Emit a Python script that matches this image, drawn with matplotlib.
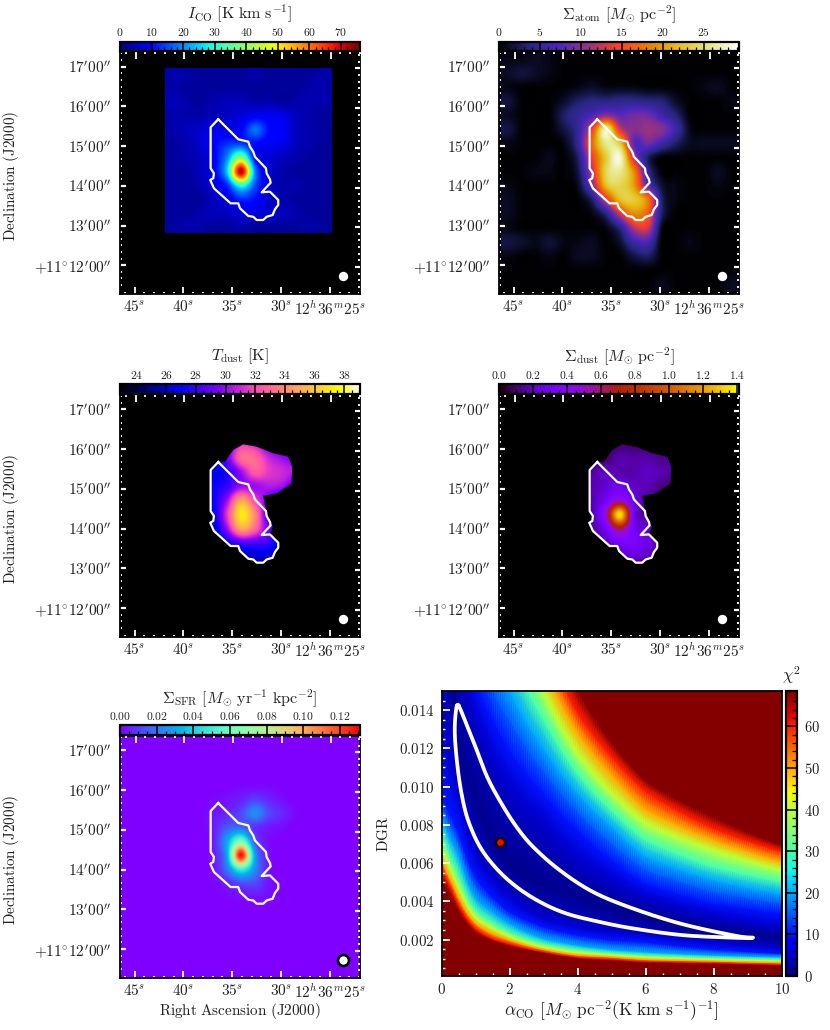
import numpy as np
import matplotlib
matplotlib.use("Agg")
import matplotlib.pyplot as plt
from matplotlib.cm import ScalarMappable
from matplotlib.colors import Normalize
from matplotlib.patches import Polygon, Rectangle

plt.rcParams["mathtext.fontset"] = "cm"
plt.rcParams["font.family"] = ["cmr10", "DejaVu Sans"]
plt.rcParams["axes.unicode_minus"] = False
plt.rcParams["axes.formatter.use_mathtext"] = True

# ---------------- data ----------------
ra_ticks = [45, 40, 35, 30, 25]
ra_labels = ["45^{s}", "40^{s}", "35^{s}", "30^{s}", "12^{h}36^{m}25^{s}"]
dec_ticks = [17, 16, 15, 14, 13, 12]
dec_labels = ["17^{\\prime}00^{\\prime\\prime}", "16^{\\prime}00^{\\prime\\prime}",
              "15^{\\prime}00^{\\prime\\prime}", "14^{\\prime}00^{\\prime\\prime}",
              "13^{\\prime}00^{\\prime\\prime}", "+11^{\\circ}12^{\\prime}00^{\\prime\\prime}"]

# region contour (RA seconds, Dec arcmin)
region_ra = [36.43, 37.21, 37.21, 36.87, 36.94, 37.25, 36.87, 35.16, 34.38, 34.20, 33.35, 32.84, 32.49,
             31.82, 31.47, 30.85, 30.62, 30.28, 30.28, 31.13, 31.98, 31.06, 31.13, 31.47, 31.54, 32.67,
             32.84, 33.18, 33.35, 34.38, 36.43]
region_dec = [15.675, 15.474, 14.441, 14.315, 14.190, 14.146, 13.937, 13.559, 13.559, 13.434, 13.240, 13.220,
              13.139, 13.139, 13.220, 13.265, 13.408, 13.517, 13.643, 13.852, 13.836, 14.078, 14.164, 14.315,
              14.441, 14.733, 14.859, 14.985, 15.111, 15.172, 15.675]
# outline of the valid area of the dust maps beyond the region contour
dustedge_ra = [30.85, 31.47, 31.82, 30.44, 28.91, 28.85, 29.26, 30.79, 32.49, 33.87, 34.89, 35.74]
dustedge_dec = [14.046, 14.383, 14.827, 14.887, 15.139, 15.557, 15.809, 15.894, 16.061, 16.121, 15.978, 15.683]

# CO footprint
co_ra = [41.9, 24.8]
co_dec = [16.98, 12.80]
beam_ra = 23.68
beam_dec = 11.73

# maps sampled on a coarse grid (17 columns E->W, 17 rows N->S)
co_map = [
 [2,2,2,2,2,2,2,2,2,2,2,2,2,2,2,2,2],
 [2,2,2,3,3,2,2,2,2,3,2,2,2,2,3,2,2],
 [2,2,2,3,2,2,2,2,2,2,2,2,2,3,3,2,2],
 [3,3,3,4,3,2,3,4,4,3,3,2,3,3,3,3,3],
 [2,2,2,3,3,3,4,5,6,8,8,7,4,3,2,2,2],
 [2,2,2,3,4,5,7,7,9,18,10,8,4,3,2,2,2],
 [2,2,2,2,3,5,9,13,14,10,8,7,4,3,2,2,2],
 [2,2,2,2,3,4,8,20,40,10,6,4,3,2,2,2,2],
 [2,2,2,2,2,4,8,25,72,20,6,3,2,2,2,2,2],
 [2,2,2,2,2,3,6,12,30,15,6,3,3,2,2,2,2],
 [2,2,2,2,2,2,4,7,12,10,5,3,2,2,2,2,2],
 [2,2,2,2,2,3,4,4,6,6,5,4,3,2,2,2,2],
 [2,2,2,2,3,3,2,2,3,2,2,2,2,3,2,2,2],
 [2,2,2,2,2,2,2,2,2,2,2,2,2,2,2,2,2],
 [2,2,2,2,2,2,2,2,2,2,2,2,2,2,2,2,2],
 [2,2,2,2,2,2,2,2,2,2,2,2,2,2,2,2,2],
 [2,2,2,2,2,2,2,2,2,2,2,2,2,2,2,2,2],
]
atom_map = [
 [.6,.6,1,.6,.2,.2,.2,.2,.2,.2,.2,.2,.2,.2,.2,.2,.2],
 [1.2,1.8,1.2,.6,.2,.2,.2,.2,.2,.2,.2,.2,.2,.2,.2,.2,.2],
 [.6,.2,.2,.2,.2,.6,1.2,.6,.6,.6,.2,.2,.2,.2,.6,1,.2],
 [1.8,.2,.2,.2,1.2,3,4,4,4.5,4.5,4,3.5,1.2,.2,.2,.2,.6],
 [1,.2,.2,.2,3,5,7,10,8,9,9,6,3.5,.2,.2,.2,.2],
 [2,.2,.2,.2,2,5,14,27,13,10,11,10,6,.8,.2,.2,.2],
 [.6,.2,.2,.2,.6,5,17,26,23,8,9,6,3,1,1,1,1],
 [.2,.2,.2,.8,.2,3,14,23,28,12,3,.2,.2,.2,.2,.2,.2],
 [.2,.2,.6,.6,.2,2,12,24,26,19,5,.2,.2,.2,.2,1,.2],
 [.6,.2,.2,.2,.2,1,9,22,24,20,8,1.5,.6,.2,.2,.6,.2],
 [1,.2,.2,.2,.2,.2,3,13,22,23,18,3,.6,.2,.2,.2,.2],
 [1,.2,.2,.2,.2,.2,.6,4,13,19,16,3,.2,.2,.2,.2,.2],
 [.6,.2,.2,.2,.2,.2,.2,.6,4,12,13,.8,.2,.2,.2,.2,.2],
 [2,1.4,.8,1.6,.6,.6,1,.2,1.5,6,7,.2,.2,.6,.2,.2,.2],
 [.6,.2,.2,.6,.2,1,1,.2,.2,2,3,.2,.2,.2,.2,.2,.2],
 [.2,.2,.2,.2,.2,.2,.2,.2,.2,.2,.2,.2,.2,.2,.2,.2,.2],
 [.2,.2,.2,.2,.2,.2,.2,.2,.2,.2,.2,.8,.2,.2,.2,.2,1],
]
tdust_map = [
 [26,26,26,26,26,26,26,28,29,29,28,27,27,26,26,26,26],
 [26,26,26,26,26,26,26,28,29,29,28,27,27,26,26,26,26],
 [26,26,26,26,26,26,26,28,30,30,28,27,27,26,26,26,26],
 [26,26,26,26,26,27,28,29,31.5,31,29,28,28,26,26,26,26],
 [26,26,26,26,26,27,27,29,33,33,31,30,29,27,26,26,26],
 [26,26,26,26,26,26,26.5,27.5,30,32.5,31.5,31,30,27,26,26,26],
 [26,26,26,26,26,26,27,28,30,30,30.5,30,28,27,26,26,26],
 [26,26,26,26,26,26,27,30,35,32,29,27,26,26,26,26,26],
 [26,26,26,26,26,26,26.5,31.5,37,34,28,27,26,26,26,26,26],
 [26,26,26,26,26,26,26,30,35,33,29,28,26,26,26,26,26],
 [26,26,26,26,26,26,25,27,28.5,28.5,28,26,26,26,26,26,26],
 [25,25,25,25,25,25,25,25,25.5,26,26,25,25,25,25,25,25],
 [25,25,25,25,25,25,25,25,25,25,25,25,25,25,25,25,25],
 [25,25,25,25,25,25,25,25,25,25,25,25,25,25,25,25,25],
 [25,25,25,25,25,25,25,25,25,25,25,25,25,25,25,25,25],
 [25,25,25,25,25,25,25,25,25,25,25,25,25,25,25,25,25],
 [25,25,25,25,25,25,25,25,25,25,25,25,25,25,25,25,25],
]
sdust_map = [
 [.1,.1,.1,.1,.1,.1,.1,.1,.1,.1,.1,.1,.1,.1,.1,.1,.1],
 [.1,.1,.1,.1,.1,.1,.1,.1,.1,.1,.1,.1,.1,.1,.1,.1,.1],
 [.1,.1,.1,.1,.1,.1,.1,.1,.1,.1,.1,.1,.1,.1,.1,.1,.1],
 [.1,.1,.1,.1,.1,.1,.1,.08,.1,.1,.1,.1,.08,.1,.1,.1,.1],
 [.1,.1,.1,.1,.1,.1,.1,.1,.17,.16,.16,.13,.12,.1,.1,.1,.1],
 [.1,.1,.1,.1,.1,.1,.15,.2,.17,.17,.2,.17,.14,.1,.1,.1,.1],
 [.1,.1,.1,.1,.1,.1,.17,.22,.28,.2,.18,.12,.1,.1,.1,.1,.1],
 [.1,.1,.1,.1,.1,.1,.17,.3,.5,.25,.16,.1,.1,.1,.1,.1,.1],
 [.1,.1,.1,.1,.1,.1,.16,.5,1.36,.3,.15,.1,.1,.1,.1,.1,.1],
 [.1,.1,.1,.1,.1,.1,.15,.3,.65,.3,.2,.1,.1,.1,.1,.1,.1],
 [.1,.1,.1,.1,.1,.1,.1,.2,.3,.33,.25,.15,.1,.1,.1,.1,.1],
 [.1,.1,.1,.1,.1,.1,.1,.1,.18,.22,.18,.12,.1,.1,.1,.1,.1],
 [.1,.1,.1,.1,.1,.1,.1,.1,.1,.1,.1,.1,.1,.1,.1,.1,.1],
 [.1,.1,.1,.1,.1,.1,.1,.1,.1,.1,.1,.1,.1,.1,.1,.1,.1],
 [.1,.1,.1,.1,.1,.1,.1,.1,.1,.1,.1,.1,.1,.1,.1,.1,.1],
 [.1,.1,.1,.1,.1,.1,.1,.1,.1,.1,.1,.1,.1,.1,.1,.1,.1],
 [.1,.1,.1,.1,.1,.1,.1,.1,.1,.1,.1,.1,.1,.1,.1,.1,.1],
]
sfr_map = [
 [0,0,0,0,0,0,0,0,0,0,0,0,0,0,0,0,0],
 [0,0,0,0,0,0,0,0,0,0,0,0,0,0,0,0,0],
 [0,0,0,0,0,0,0,0,0,0,0,0,0,0,0,0,0],
 [0,0,0,0,0,0,0,0,.001,.001,.001,0,0,0,0,0,0],
 [0,0,0,0,0,0,.001,.003,.005,.01,.006,.002,0,0,0,0,0],
 [0,0,0,0,0,0,.003,.006,.012,.025,.012,.006,.001,0,0,0,0],
 [0,0,0,0,0,0,.004,.015,.018,.008,.004,.002,0,0,0,0,0],
 [0,0,0,0,0,0,.004,.03,.065,.015,.002,0,0,0,0,0,0],
 [0,0,0,0,0,0,.004,.03,.128,.03,.003,0,0,0,0,0,0],
 [0,0,0,0,0,0,.002,.02,.05,.025,.003,0,0,0,0,0,0],
 [0,0,0,0,0,0,.001,.005,.012,.012,.003,0,0,0,0,0,0],
 [0,0,0,0,0,0,0,.001,.002,.003,.002,0,0,0,0,0,0],
 [0,0,0,0,0,0,0,0,0,0,0,0,0,0,0,0,0],
 [0,0,0,0,0,0,0,0,0,0,0,0,0,0,0,0,0],
 [0,0,0,0,0,0,0,0,0,0,0,0,0,0,0,0,0],
 [0,0,0,0,0,0,0,0,0,0,0,0,0,0,0,0,0],
 [0,0,0,0,0,0,0,0,0,0,0,0,0,0,0,0,0],
]

co_ticks = [0, 10, 20, 30, 40, 50, 60, 70]
atom_ticks = [0, 5, 10, 15, 20, 25]
tdust_ticks = [24, 26, 28, 30, 32, 34, 36, 38]
sdust_ticks = [0.0, 0.2, 0.4, 0.6, 0.8, 1.0, 1.2, 1.4]
sfr_ticks = [0.00, 0.02, 0.04, 0.06, 0.08, 0.10, 0.12]
chi_ticks = [0, 10, 20, 30, 40, 50, 60]

# chi^2 surface: DGR at which each chi^2 level is reached, per alpha_CO column
alpha_col = [0.0, 0.25, 0.5, 1.0, 1.5, 2.0, 3.0, 4.0, 5.0, 6.0, 8.0, 10.0]
chi_levels = [68, 68, 60, 50, 40, 30, 20, 10, 5, 1, 5, 10, 20, 30, 40, 50, 60, 68, 68]
dgr_at_level = [
 [.00001,.00545,.0060,.0065,.0070,.0079,.0088,.0098,.0150,.025,.030,.034,.038,.042,.046,.050,.054,.058,1],
 [.00001,.0044,.00493,.00528,.0058,.0065,.00737,.00859,.0112,.017,.023,.027,.032,.037,.041,.045,.049,.053,1],
 [.00001,.00345,.00388,.00423,.00476,.00545,.0065,.00772,.00981,.0122,.0165,.019,.023,.027,.031,.035,.039,.043,1],
 [.00001,.00231,.00258,.00284,.0031,.00353,.00415,.00528,.0065,.0094,.0138,.0155,.019,.022,.025,.028,.031,.034,1],
 [.00001,.00193,.00205,.00231,.00258,.00292,.00345,.00423,.00519,.0072,.0115,.0135,.0165,.019,.021,.024,.027,.030,1],
 [.00001,.00162,.00179,.00197,.00214,.0024,.00284,.00345,.00423,.0058,.00999,.0119,.015,.017,.019,.021,.023,.025,1],
 [.00001,.0013,.00137,.00148,.00158,.00179,.00205,.00266,.0031,.00476,.00824,.00964,.012,.01356,.015,.0163,.0178,.019,1],
 [.00001,.00099,.00109,.00118,.0013,.00148,.0017,.00223,.00266,.00423,.00633,.00772,.00964,.01069,.01173,.0128,.01383,.0151,1],
 [.00001,.00088,.00099,.00109,.00118,.0013,.00148,.00197,.0024,.00353,.00519,.00615,.0079,.00877,.00964,.0106,.01156,.01234,1],
 [.00001,.00078,.00087,.00095,.00106,.00118,.00135,.00188,.0023,.0031,.00423,.00493,.00633,.0072,.00807,.00877,.00973,.0103,1],
 [.00001,.00071,.0008,.00087,.00095,.00106,.00118,.00148,.00188,.0024,.00327,.00388,.0051,.0058,.00667,.0072,.00781,.00842,1],
 [.00001,.00062,.00071,.00078,.00087,.00097,.00109,.00127,.00153,.0021,.00266,.00336,.00437,.00502,.00563,.00606,.00659,.00694,1],
]
# one-sigma contour and best fit
contour_alpha = [.489,.685,.978,1.34,1.76,2.20,2.69,3.47,4.45,5.63,7.09,8.66,9.15,8.66,7.09,5.63,4.65,3.67,2.89,2.20,1.61,1.13,.78,.587,.46,.39,.42]
contour_dgr = [.01426,.01348,.01217,.01051,.00912,.00790,.00685,.00563,.00449,.00362,.00280,.00219,.00210,.00209,.00223,.00258,.00292,.00336,.00397,.00476,.00572,.00685,.00824,.00964,.01121,.01278,.01391]
best_alpha = [1.71]
best_dgr = [0.00709]
alpha_ticks = [0, 2, 4, 6, 8, 10]
dgr_ticks = [0.002, 0.004, 0.006, 0.008, 0.010, 0.012, 0.014]

# ---------------- layout ----------------
W, H = 830, 1030
fig = plt.figure(figsize=(W / 100, H / 100), dpi=100, facecolor="white")
PX = 0.72  # points per pixel

def axpx(l, t, r, b):
    return fig.add_axes([l / W, 1 - b / H, (r - l) / W, (b - t) / H])

def txt(x, y, s, size, **kw):
    kw.setdefault("ha", "center")
    kw.setdefault("va", "center")
    fig.text(x / W, 1 - y / H, s, fontsize=size, color="#222222", **kw)

FS_T = 11.0   # tick labels on maps
FS_C = 8.3    # colour bar labels
FS_L = 10.9   # axis labels
FS_H = 11.6   # titles

RA0, RA1 = 46.5, 21.9
DEC1, DEC0 = 17.363, 11.28
# image extent: half a grid cell beyond the outermost samples
IMG_RA = (46.5 - 2 / 9.76, 46.5 - 240 / 9.76)
IMG_DEC = (17.363 - 239 / 39.7, 17.363 - 1 / 39.7)


def map_panel(l, t, grid, cmap, vmin, vmax, clip=None, face="black", beam_edge=None):
    ax = axpx(l, t, l + 240, t + 241.5)
    ax.set_facecolor(face)
    im = ax.imshow(np.array(grid, float), cmap=cmap, vmin=vmin, vmax=vmax, interpolation="catrom",
                   extent=[IMG_RA[0], IMG_RA[1], IMG_DEC[0], IMG_DEC[1]], aspect="auto", origin="upper", zorder=1)
    if clip is not None:
        clip.set_transform(ax.transData)
        im.set_clip_path(clip)
    ax.set_xlim(RA0, RA1)
    ax.set_ylim(DEC0, DEC1)
    ax.plot(region_ra, region_dec, color="white", lw=1.6, zorder=3, solid_joinstyle="round")
    ecol = beam_edge if beam_edge else "white"
    lw = 1.9 if beam_edge else 0
    rad = 5.5 if beam_edge else 4.7
    ax.scatter([beam_ra], [beam_dec], s=(2 * rad * PX) ** 2, facecolor="white", edgecolor=ecol, linewidth=lw, zorder=4)

    for spine in ax.spines.values():
        spine.set_linewidth(1.3)
    tw = dict(colors="white", direction="in")
    ax.set_xticks(ra_ticks, ["$%s$" % s for s in ra_labels])
    ax.set_xticks(np.arange(22, 47, 1.0), minor=True)
    ax.set_yticks(dec_ticks, ["$%s$" % s for s in dec_labels])
    ax.set_yticks(np.arange(11.5, 17.34, 1 / 6), minor=True)
    ax.tick_params(axis="x", which="major", length=7 * PX, width=1.3, pad=4, labelsize=FS_T, labelcolor="#222222", **tw)
    ax.tick_params(axis="y", which="major", length=5.5 * PX, width=1.6, pad=6, labelsize=FS_T, labelcolor="#222222", **tw)
    ax.tick_params(which="minor", length=2.2 * PX, width=1.3, **tw)
    # opposite sides sit slightly offset, as on a curved sky grid
    top = ax.twiny()
    top.set_xlim(RA0 + 0.1, RA1 + 0.1)
    top.set_xticks(ra_ticks, [])
    top.set_xticks(np.arange(22, 47, 1.0), minor=True)
    top.tick_params(axis="x", which="major", length=7 * PX, width=1.3, **tw)
    top.tick_params(axis="x", which="minor", length=2.2 * PX, width=1.3, **tw)
    right = ax.twinx()
    right.set_ylim(DEC0 + 0.043, DEC1 + 0.043)
    right.set_yticks(dec_ticks, [])
    right.set_yticks(np.arange(11.5, 17.34, 1 / 6), minor=True)
    right.tick_params(axis="y", which="major", length=5.5 * PX, width=1.6, **tw)
    right.tick_params(axis="y", which="minor", length=2.2 * PX, width=1.3, **tw)
    for a in (top, right):
        a.patch.set_visible(False)
        for spine in a.spines.values():
            spine.set_visible(False)
    return ax, im


def h_colorbar(l, t, im, ticks, fmt, nsub):
    cax = axpx(l, t - 10.8, l + 240, t - 1.4)
    cb = fig.colorbar(im, cax=cax, orientation="horizontal")
    cb.set_ticks(ticks, labels=["$%s$" % (fmt % v) for v in ticks])
    step = ticks[1] - ticks[0]
    vmin, vmax = im.get_clim()
    minor = np.arange(ticks[0] - 3 * step, vmax + step, step / nsub)
    cax.set_xticks(minor[(minor > vmin) & (minor < vmax)], minor=True)
    cax.xaxis.set_ticks_position("bottom")
    cax.xaxis.set_label_position("top")
    cax.tick_params(axis="x", which="major", direction="in", length=9.4 * PX, width=1.1, bottom=True, top=False,
                    labelbottom=False, labeltop=True, labelsize=FS_C, pad=2.5, labelcolor="#222222")
    cax.tick_params(axis="x", which="minor", direction="in", length=4.5 * PX, width=0.9, bottom=True, top=False)
    cb.outline.set_linewidth(1.6)
    return cax


LX, RX = 120, 499
T1, T2, T3 = 52.3, 395, 736

# CO footprint clip
co_rect = Rectangle((co_ra[0], co_dec[1]), co_ra[1] - co_ra[0], co_dec[0] - co_dec[1])
ax1, im1 = map_panel(LX, T1, co_map, "jet", 0, 76, clip=co_rect)
h_colorbar(LX, T1, im1, co_ticks, "%d", 5)
txt(240, 14, r"$I_{\mathrm{CO}}\ [\mathrm{K\ km\ s^{-1}}]$", FS_H)

ax2, im2 = map_panel(RX, T1, atom_map, "CMRmap", 0, 29.3)
h_colorbar(RX, T1, im2, atom_ticks, "%d", 5)
txt(619, 14, r"$\Sigma_{\mathrm{atom}}\ [M_{\odot}\ \mathrm{pc}^{-2}]$", FS_H)

mask_xy = np.column_stack([region_ra[:20] + dustedge_ra, region_dec[:20] + dustedge_dec])
ax3, im3 = map_panel(LX, T2, tdust_map, "gnuplot2", 22.9, 39.05, clip=Polygon(mask_xy, closed=True))
h_colorbar(LX, T2, im3, tdust_ticks, "%d", 4)
txt(240, 356, r"$T_{\mathrm{dust}}\ [\mathrm{K}]$", FS_H)

ax4, im4 = map_panel(RX, T2, sdust_map, "gnuplot", 0, 1.41, clip=Polygon(mask_xy, closed=True))
h_colorbar(RX, T2, im4, sdust_ticks, "%.1f", 4)
txt(619, 356, r"$\Sigma_{\mathrm{dust}}\ [M_{\odot}\ \mathrm{pc}^{-2}]$", FS_H)

ax5, im5 = map_panel(LX, T3, sfr_map, "rainbow", 0, 0.131, face=plt.get_cmap("rainbow")(0.0), beam_edge="black")
h_colorbar(LX, T3, im5, sfr_ticks, "%.2f", 4)
txt(240, 698, r"$\Sigma_{\mathrm{SFR}}\ [M_{\odot}\ \mathrm{yr}^{-1}\ \mathrm{kpc}^{-2}]$", FS_H)

for y in (176, 519, 860):
    txt(11, y, r"$\mathrm{Declination\ (J2000)}$", FS_L, rotation=90)
txt(240, 1011, r"$\mathrm{Right\ Ascension\ (J2000)}$", FS_L)

# chi^2 panel: level curves are carried between the alpha columns in log DGR
ax6 = axpx(441.5, 691, 782, 975.5)
alpha_fine = np.linspace(0, 10, 161)
table = np.log(np.array(dgr_at_level))
fine = np.empty((alpha_fine.size, table.shape[1]))
kernel = np.hanning(9) / np.hanning(9).sum()
for j in range(table.shape[1]):
    curve = np.interp(np.sqrt(alpha_fine), np.sqrt(alpha_col), table[:, j])
    pad = np.concatenate([np.full(4, curve[0]), curve, np.full(4, curve[-1])])
    fine[:, j] = np.convolve(pad, kernel, mode="valid")
X = np.repeat(alpha_fine[:, None], len(chi_levels), axis=1)
Y = np.exp(fine)
C = np.tile(np.array(chi_levels, float), (alpha_fine.size, 1))
chi_norm = Normalize(0, 68.5)
ax6.pcolormesh(X, Y, C, shading="gouraud", cmap="jet", norm=chi_norm, rasterized=True)
ax6.set_xlim(0, 10)
ax6.set_ylim(0.00012, 0.015)

# closed smooth line through the contour samples (Catmull-Rom)
P = np.column_stack([contour_alpha, np.array(contour_dgr) * 1000.0])
n = len(P)
t = np.linspace(0, 1, 12, endpoint=False)[:, None]
seg = []
for i in range(n):
    p0, p1, p2, p3 = P[(i - 1) % n], P[i], P[(i + 1) % n], P[(i + 2) % n]
    seg.append(0.5 * (2 * p1 + (p2 - p0) * t + (2 * p0 - 5 * p1 + 4 * p2 - p3) * t ** 2 + (3 * p1 - p0 - 3 * p2 + p3) * t ** 3))
seg = np.vstack(seg + [P[:1]])
ax6.plot(seg[:, 0], seg[:, 1] / 1000.0, color="white", lw=2.7, solid_joinstyle="round", zorder=3)
ax6.scatter(best_alpha, best_dgr, s=(9 * PX) ** 2, c="red", edgecolor="black", linewidth=1.6, zorder=4)
ax6.set_xticks(alpha_ticks, ["$%d$" % v for v in alpha_ticks])
ax6.set_xticks(np.arange(0.5, 10, 0.5), minor=True)
ax6.set_yticks(dgr_ticks, ["$%.3f$" % v for v in dgr_ticks])
ax6.set_yticks(np.arange(0.0005, 0.015, 0.0005), minor=True)
ax6.tick_params(which="major", direction="in", colors="white", length=8 * PX, width=1.3, labelcolor="#222222", labelsize=10.8, pad=5)
ax6.tick_params(which="minor", direction="in", colors="white", length=3 * PX, width=1.0)
for spine in ax6.spines.values():
    spine.set_linewidth(1.3)
txt(611.5, 1011.5, r"$\alpha_{\mathrm{CO}}\ [M_{\odot}\ \mathrm{pc}^{-2}(\mathrm{K\ km\ s^{-1}})^{-1}]$", 12.5)
txt(383, 834, r"$\mathrm{DGR}$", FS_L, rotation=90)

cax6 = axpx(785.7, 691, 796.7, 976)
cb6 = fig.colorbar(ScalarMappable(norm=chi_norm, cmap="jet"), cax=cax6)
cb6.set_ticks(chi_ticks, labels=["$%d$" % v for v in chi_ticks])
cax6.set_yticks(np.arange(2, 68, 2), minor=True)
cax6.yaxis.set_ticks_position("right")
cax6.tick_params(axis="y", which="major", direction="in", length=11 * PX, width=1.1, labelsize=10.5, pad=5, labelcolor="#222222")
cax6.tick_params(axis="y", which="minor", direction="in", length=5 * PX, width=0.9)
cb6.outline.set_linewidth(1.6)
txt(791, 675, r"$\chi^2$", 12)

fig.savefig("out.png", dpi=100)
